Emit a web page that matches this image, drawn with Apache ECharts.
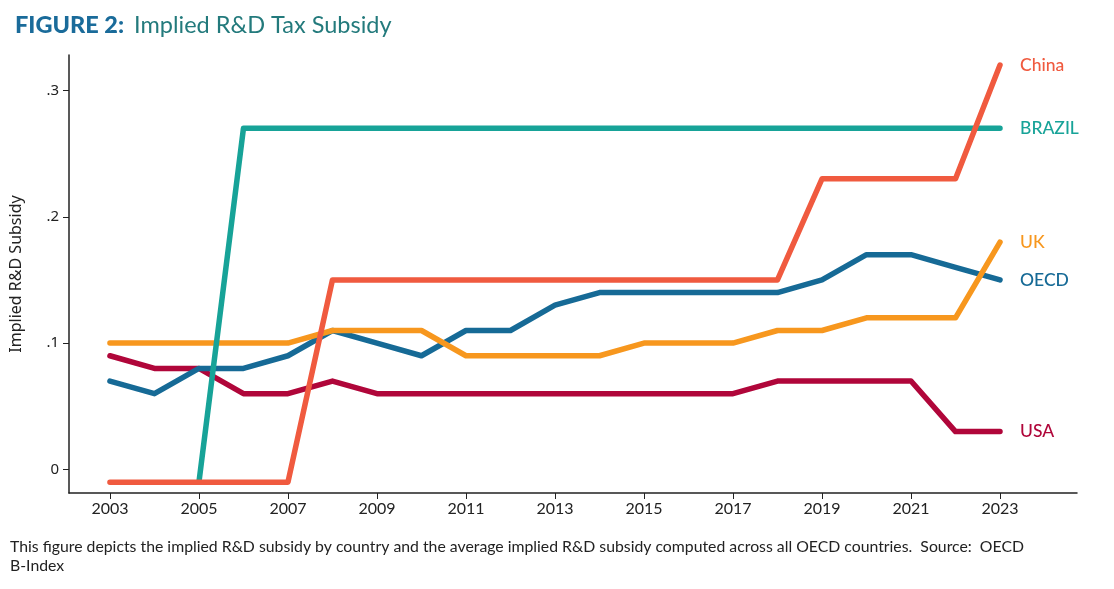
<!DOCTYPE html>
<html>
<head>
<meta charset="utf-8">
<script src="https://cdn.jsdelivr.net/npm/echarts@6/dist/echarts.min.js"></script>
<style>
html,body{margin:0;padding:0;background:#fff;}
#c{width:1114px;height:589px;}
</style>
</head>
<body>
<div id="c"></div>
<script>
var years = [2003,2004,2005,2006,2007,2008,2009,2010,2011,2012,2013,2014,2015,2016,2017,2018,2019,2020,2021,2022,2023];
var xTicks = [2003,2005,2007,2009,2011,2013,2015,2017,2019,2021,2023];
var yTicks = [0,0.1,0.2,0.3];
var yTickLabels = ['0','.1','.2','.3'];
var china  = [-0.01,-0.01,-0.01,-0.01,-0.01,0.15,0.15,0.15,0.15,0.15,0.15,0.15,0.15,0.15,0.15,0.15,0.23,0.23,0.23,0.23,0.32];
var brazil = [null,null,-0.01,0.27,0.27,0.27,0.27,0.27,0.27,0.27,0.27,0.27,0.27,0.27,0.27,0.27,0.27,0.27,0.27,0.27,0.27];
var uk     = [0.10,0.10,0.10,0.10,0.10,0.11,0.11,0.11,0.09,0.09,0.09,0.09,0.10,0.10,0.10,0.11,0.11,0.12,0.12,0.12,0.18];
var oecd   = [0.07,0.06,0.08,0.08,0.09,0.11,0.10,0.09,0.11,0.11,0.13,0.14,0.14,0.14,0.14,0.14,0.15,0.17,0.17,0.16,0.15];
var usa    = [0.09,0.08,0.08,0.06,0.06,0.07,0.06,0.06,0.06,0.06,0.06,0.06,0.06,0.06,0.06,0.07,0.07,0.07,0.07,0.03,0.03];

var seriesDefs = [
  {name:'USA', data:usa, color:'#b0063a'},
  {name:'OECD', data:oecd, color:'#166a96'},
  {name:'UK', data:uk, color:'#f7971e'},
  {name:'BRAZIL', data:brazil, color:'#17a398'},
  {name:'China', data:china, color:'#f05a3f'}
];
var FONT = 'Lato, "Source Sans Pro", "Noto Sans", sans-serif';

function pairs(arr){
  var out=[];
  for(var i=0;i<years.length;i++){ if(arr[i]!==null) out.push([years[i],arr[i]]); }
  return out;
}

var chart = echarts.init(document.getElementById('c'), null, {renderer:'canvas'});
chart.setOption({
  backgroundColor:'#fff',
  animation:false,
  title:{
    left:10, top:8,
    text:'{b|FIGURE 2:}  {r|Implied R&D Tax Subsidy}',
    textStyle:{
      rich:{
        b:{fontFamily:FONT, fontWeight:900, fontSize:23.5, color:'#1a6b9a'},
        r:{fontFamily:FONT, fontWeight:400, fontSize:23.5, color:'#237a7c'}
      }
    }
  },
  grid:{left:69, right:37, top:55, bottom:96, containLabel:false},
  xAxis:{
    type:'value', min:2002.08, max:2024.73,
    axisLine:{show:true, onZero:false, lineStyle:{color:'#222', width:1.5}},
    axisTick:{show:true, length:6, customValues:xTicks, lineStyle:{color:'#222'}},
    axisLabel:{customValues:xTicks, fontFamily:FONT, fontSize:16, color:'#222', margin:8, formatter:function(v){return String(v);}},
    splitLine:{show:false}
  },
  yAxis:{
    type:'value', min:-0.0186, max:0.328,
    name:'Implied R&D Subsidy', nameLocation:'middle', nameGap:45,
    nameTextStyle:{fontFamily:'"Noto Sans", "DejaVu Sans", sans-serif', fontSize:16, color:'#222'},
    axisLine:{show:true, onZero:false, lineStyle:{color:'#222', width:1.5}},
    axisTick:{show:true, length:6, customValues:yTicks, lineStyle:{color:'#222'}},
    axisLabel:{customValues:yTicks, fontFamily:'"Noto Sans", "DejaVu Sans", sans-serif', fontSize:15, color:'#222', margin:10,
      formatter:function(v){ var i=yTicks.findIndex(function(t){return Math.abs(t-v)<1e-9;}); return i>=0?yTickLabels[i]:''; }},
    splitLine:{show:false}
  },
  series: seriesDefs.map(function(s){
    return {
      name:s.name, type:'line', data:pairs(s.data), symbol:'none',
      lineStyle:{color:s.color, width:5.5, cap:'round', join:'round'},
      itemStyle:{color:s.color},
      endLabel:{show:true, formatter:'{a}', distance:20, fontFamily:FONT, fontSize:17.5, fontWeight:500, color:s.color},
      z: 2
    };
  }),
  graphic:[
    {type:'text', left:10, top:539, style:{text:'This figure depicts the implied R&D subsidy by country and the average implied R&D subsidy computed across all OECD countries.  Source:  OECD', font:'15.8px '+FONT, fill:'#222'}},
    {type:'text', left:10, top:558, style:{text:'B-Index', font:'15.8px '+FONT, fill:'#222'}}
  ]
});
</script>
</body>
</html>
